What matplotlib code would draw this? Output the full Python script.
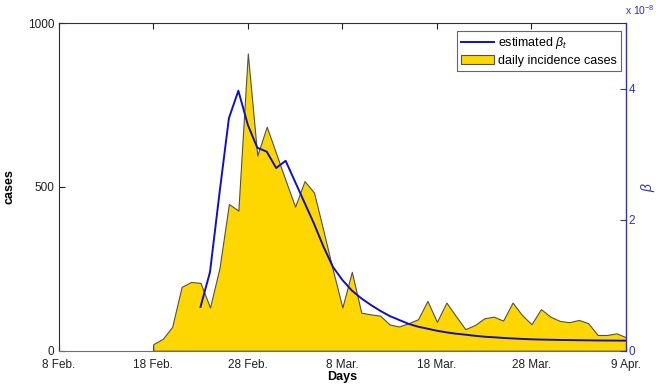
import matplotlib
matplotlib.use("Agg")
import matplotlib.pyplot as plt
from matplotlib.patches import Patch
from matplotlib.lines import Line2D

plt.rcParams['font.family'] = ['Liberation Sans', 'DejaVu Sans']
plt.rcParams['mathtext.fontset'] = 'custom'
plt.rcParams['mathtext.rm'] = 'Liberation Sans'
plt.rcParams['mathtext.it'] = 'Liberation Sans:italic'

# day index 0 = 8 Feb.
case_days = list(range(10, 61))
cases = [20, 36, 73, 195, 210, 207, 132, 252, 448, 428,
         908, 596, 684, 602, 520, 440, 518, 483, 366, 246,
         132, 241, 116, 111, 107, 80, 74, 84, 96, 152,
         88, 147, 106, 66, 78, 99, 104, 92, 147, 109,
         81, 127, 104, 91, 87, 94, 84, 48, 48, 53, 41]

beta_days = list(range(15, 61))
beta = [0.67, 1.2, 2.4, 3.55, 3.97, 3.45, 3.10, 3.04, 2.79, 2.90,
        2.58, 2.26, 1.94, 1.59, 1.28, 1.08, 0.92, 0.80, 0.70, 0.61,
        0.53, 0.47, 0.41, 0.367, 0.336, 0.305, 0.28, 0.26, 0.245, 0.228,
        0.214, 0.205, 0.195, 0.187, 0.18, 0.174, 0.17, 0.167, 0.164, 0.162,
        0.16, 0.158, 0.156, 0.155, 0.154, 0.153]

tick_pos = [0, 10, 20, 30, 40, 50, 60]
tick_labels = ['8 Feb.', '18 Feb.', '28 Feb.', '8 Mar.', '18 Mar.', '28 Mar.', '9 Apr.']

gold = '#FFD700'
blue = '#1010C8'
axblue = '#3030C0'

fig = plt.figure(figsize=(6.56, 3.87), dpi=100)
ax = fig.add_axes([0.0895, 0.0938, 0.8648, 0.846])

ax.fill_between(case_days, 0, cases, facecolor=gold, edgecolor='#505050', linewidth=0.8, zorder=2)
ax.set_xlim(0, 60)
ax.set_ylim(0, 1000)
ax.set_xticks(tick_pos)
ax.set_xticklabels(tick_labels)
ax.set_yticks([0, 500, 1000])
ax.tick_params(axis='both', direction='in', labelsize=8.5, length=4, width=0.8, colors='#202020', pad=3)
ax.tick_params(axis='x', top=True, pad=6)
for s in ['left', 'top']:
    ax.spines[s].set_color('#303030')
ax.spines['bottom'].set_color('#707070')
ax.spines['right'].set_visible(False)
ax.set_xlabel('Days', fontsize=9, fontweight='bold', labelpad=0)
ax.set_ylabel('cases', fontsize=9, fontweight='bold')
ax.yaxis.set_label_coords(-0.077, 0.5)

ax2 = ax.twinx()
ax2.plot(beta_days, beta, color=blue, linewidth=1.4, zorder=3)
ax2.set_ylim(0, 5)
ax2.set_yticks([0, 2, 4])
ax2.tick_params(axis='y', direction='in', labelsize=8.5, length=4, width=0.8, colors=axblue, pad=2)
ax2.spines['right'].set_color(axblue)
ax2.spines['right'].set_linewidth(1.0)
for s in ['left', 'top', 'bottom']:
    ax2.spines[s].set_visible(False)
ax2.set_ylabel(r'$\beta$', fontsize=10, color=axblue)
ax2.yaxis.set_label_coords(1.022, 0.5)
fig.text(0.953, 0.955, r'x 10$^{-8}$', color=axblue, fontsize=7.5, ha='left', va='bottom')

handles = [Line2D([0], [0], color=blue, linewidth=1.4),
           Patch(facecolor=gold, edgecolor='#505050', linewidth=0.8)]
leg = ax2.legend(handles, [r'estimated $\beta_t$', 'daily incidence cases'],
                 loc='upper right', bbox_to_anchor=(0.9955, 0.985), fontsize=9,
                 frameon=True, fancybox=False, edgecolor='#404040', handlelength=2.6,
                 handletextpad=0.3, borderpad=0.35, labelspacing=0.3, borderaxespad=0.2)
leg.get_frame().set_linewidth(0.8)

fig.savefig('out.png', dpi=100)
